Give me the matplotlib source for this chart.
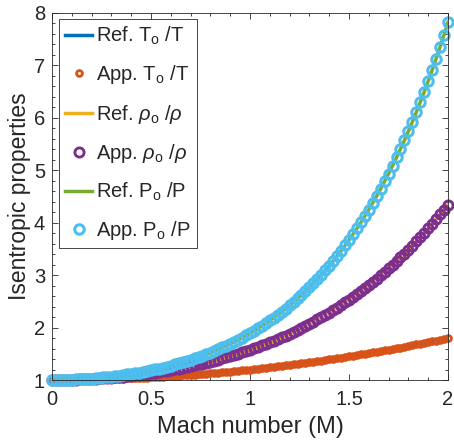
import matplotlib
matplotlib.use("Agg")
import matplotlib.pyplot as plt
from matplotlib.ticker import MultipleLocator, FuncFormatter

plt.rcParams['font.family'] = ['Liberation Sans', 'DejaVu Sans']
plt.rcParams['mathtext.fontset'] = 'custom'
plt.rcParams['mathtext.rm'] = 'Liberation Sans'
plt.rcParams['mathtext.it'] = 'Liberation Sans:italic'

mach = [0.00, 0.02, 0.04, 0.06, 0.08, 0.10, 0.12, 0.14, 0.16, 0.18, 0.20,
        0.22, 0.24, 0.26, 0.28, 0.30, 0.32, 0.34, 0.36, 0.38, 0.40,
        0.42, 0.44, 0.46, 0.48, 0.50, 0.52, 0.54, 0.56, 0.58, 0.60,
        0.62, 0.64, 0.66, 0.68, 0.70, 0.72, 0.74, 0.76, 0.78, 0.80,
        0.82, 0.84, 0.86, 0.88, 0.90, 0.92, 0.94, 0.96, 0.98, 1.00,
        1.02, 1.04, 1.06, 1.08, 1.10, 1.12, 1.14, 1.16, 1.18, 1.20,
        1.22, 1.24, 1.26, 1.28, 1.30, 1.32, 1.34, 1.36, 1.38, 1.40,
        1.42, 1.44, 1.46, 1.48, 1.50, 1.52, 1.54, 1.56, 1.58, 1.60,
        1.62, 1.64, 1.66, 1.68, 1.70, 1.72, 1.74, 1.76, 1.78, 1.80,
        1.82, 1.84, 1.86, 1.88, 1.90, 1.92, 1.94, 1.96, 1.98, 2.00]

ref_T = [1.00000, 1.00008, 1.00032, 1.00072, 1.00128, 1.00200, 1.00288, 1.00392, 1.00512, 1.00648, 1.00800,
         1.00968, 1.01152, 1.01352, 1.01568, 1.01800, 1.02048, 1.02312, 1.02592, 1.02888, 1.03200,
         1.03528, 1.03872, 1.04232, 1.04608, 1.05000, 1.05408, 1.05832, 1.06272, 1.06728, 1.07200,
         1.07688, 1.08192, 1.08712, 1.09248, 1.09800, 1.10368, 1.10952, 1.11552, 1.12168, 1.12800,
         1.13448, 1.14112, 1.14792, 1.15488, 1.16200, 1.16928, 1.17672, 1.18432, 1.19208, 1.20000,
         1.20808, 1.21632, 1.22472, 1.23328, 1.24200, 1.25088, 1.25992, 1.26912, 1.27848, 1.28800,
         1.29768, 1.30752, 1.31752, 1.32768, 1.33800, 1.34848, 1.35912, 1.36992, 1.38088, 1.39200,
         1.40328, 1.41472, 1.42632, 1.43808, 1.45000, 1.46208, 1.47432, 1.48672, 1.49928, 1.51200,
         1.52488, 1.53792, 1.55112, 1.56448, 1.57800, 1.59168, 1.60552, 1.61952, 1.63368, 1.64800,
         1.66248, 1.67712, 1.69192, 1.70688, 1.72200, 1.73728, 1.75272, 1.76832, 1.78408, 1.80000]

ref_rho = [1.000, 1.000, 1.001, 1.002, 1.003, 1.005, 1.007, 1.010, 1.013, 1.016, 1.020,
           1.024, 1.029, 1.034, 1.040, 1.046, 1.052, 1.059, 1.066, 1.074, 1.082,
           1.091, 1.100, 1.109, 1.119, 1.130, 1.141, 1.152, 1.164, 1.177, 1.190,
           1.203, 1.218, 1.232, 1.247, 1.263, 1.280, 1.297, 1.314, 1.333, 1.351,
           1.371, 1.391, 1.412, 1.433, 1.456, 1.478, 1.502, 1.526, 1.552, 1.577,
           1.604, 1.632, 1.660, 1.689, 1.719, 1.750, 1.782, 1.814, 1.848, 1.883,
           1.918, 1.955, 1.992, 2.031, 2.071, 2.112, 2.154, 2.197, 2.241, 2.286,
           2.333, 2.381, 2.430, 2.480, 2.532, 2.585, 2.639, 2.695, 2.752, 2.811,
           2.871, 2.933, 2.997, 3.061, 3.128, 3.196, 3.266, 3.339, 3.411, 3.487,
           3.564, 3.642, 3.723, 3.806, 3.891, 3.978, 4.067, 4.158, 4.251, 4.347]

ref_P = [1.000, 1.000, 1.001, 1.003, 1.004, 1.007, 1.010, 1.014, 1.018, 1.023, 1.028,
         1.034, 1.041, 1.048, 1.056, 1.064, 1.074, 1.083, 1.094, 1.105, 1.117,
         1.129, 1.142, 1.156, 1.171, 1.186, 1.202, 1.219, 1.237, 1.256, 1.276,
         1.296, 1.317, 1.340, 1.363, 1.387, 1.412, 1.439, 1.466, 1.495, 1.524,
         1.555, 1.587, 1.621, 1.655, 1.691, 1.729, 1.767, 1.808, 1.850, 1.893,
         1.938, 1.985, 2.033, 2.083, 2.135, 2.189, 2.245, 2.303, 2.363, 2.425,
         2.489, 2.556, 2.625, 2.697, 2.771, 2.847, 2.927, 3.009, 3.094, 3.182,
         3.273, 3.368, 3.465, 3.566, 3.671, 3.779, 3.891, 4.007, 4.127, 4.250,
         4.379, 4.511, 4.648, 4.790, 4.936, 5.087, 5.244, 5.407, 5.573, 5.746,
         5.924, 6.108, 6.300, 6.497, 6.701, 6.911, 7.128, 7.353, 7.585, 7.824]

# approximate values coincide with the reference curves in the picture
app_T = list(ref_T)
app_rho = list(ref_rho)
app_P = list(ref_P)

labels = [r'Ref. T$_{\mathrm{o}}$ /T', r'App. T$_{\mathrm{o}}$ /T',
          r'Ref. $\rho_{\mathrm{o}}$ /$\rho$', r'App. $\rho_{\mathrm{o}}$ /$\rho$',
          r'Ref. P$_{\mathrm{o}}$ /P', r'App. P$_{\mathrm{o}}$ /P']

c_blue = '#0072BD'
c_orange = '#D95319'
c_yellow = '#EDB120'
c_purple = '#7E2F8E'
c_green = '#77AC30'
c_cyan = '#4DBEEE'
axc = '#262626'

fig = plt.figure(figsize=(4.54, 4.47), dpi=100)
ax = fig.add_axes([52/454, 1-380/447, 396/454, 367/447])

ax.plot(mach, ref_T, '-', color=c_blue, lw=2.5, label=labels[0])
ax.plot(mach, app_T, 'o', ls='none', mfc='none', mec=c_orange, ms=4.2, mew=2.0,
        clip_on=False, label=labels[1])
ax.plot(mach, ref_rho, '-', color=c_yellow, lw=2.5, label=labels[2])
ax.plot(mach, app_rho, 'o', ls='none', mfc='none', mec=c_purple, ms=6.6, mew=2.1,
        clip_on=False, label=labels[3])
ax.plot(mach, ref_P, '-', color=c_green, lw=2.5, label=labels[4])
ax.plot(mach, app_P, 'o', ls='none', mfc='none', mec=c_cyan, ms=6.8, mew=2.2,
        clip_on=False, label=labels[5])

ax.set_xlim(0, 2)
ax.set_ylim(1, 8)
ax.xaxis.set_major_locator(MultipleLocator(0.5))
ax.xaxis.set_minor_locator(MultipleLocator(0.1))
ax.yaxis.set_major_locator(MultipleLocator(1))
ax.yaxis.set_minor_locator(MultipleLocator(0.2))
ax.xaxis.set_major_formatter(FuncFormatter(lambda v, p: '%g' % v))

for s in ax.spines.values():
    s.set_color(axc)
    s.set_linewidth(0.6)
ax.tick_params(which='both', direction='in', top=True, right=True, color=axc,
               labelcolor=axc, labelsize=14.5, width=0.6)
ax.tick_params(which='major', length=4)
ax.tick_params(which='minor', length=2.3)
ax.tick_params(axis='x', which='major', pad=7)
ax.tick_params(axis='y', which='major', pad=5)

ax.set_xlabel('Mach number (M)', fontsize=17, color=axc, labelpad=5)
ax.set_ylabel('Isentropic properties', fontsize=16.5, color=axc, labelpad=2)

leg = ax.legend(loc='upper left', bbox_to_anchor=(7/396, 1-6/367), borderaxespad=0,
                fontsize=14.5, fancybox=False, framealpha=1, edgecolor=axc,
                handlelength=1.35, handletextpad=0.2, borderpad=0.3,
                labelspacing=0.8, numpoints=1)
leg.get_frame().set_linewidth(0.6)
for t in leg.get_texts():
    t.set_color(axc)

fig.savefig('out.png', dpi=100)
